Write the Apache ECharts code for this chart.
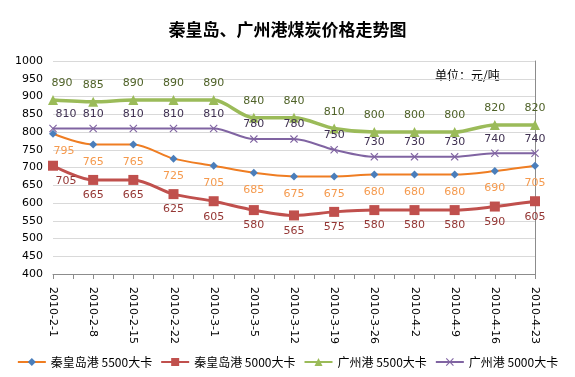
<!DOCTYPE html>
<html>
<head>
<meta charset="utf-8">
<script src="https://cdn.jsdelivr.net/npm/echarts@6/dist/echarts.min.js"></script>
<style>
  html, body { margin: 0; padding: 0; background: #fff; }
  #main { width: 575px; height: 377px; }
</style>
</head>
<body>
<div id="main"></div>
<script>
var dates = ["2010-2-1", "2010-2-8", "2010-2-15", "2010-2-22", "2010-3-1", "2010-3-5", "2010-3-12",
  "2010-3-19", "2010-3-26", "2010-4-2", "2010-4-9", "2010-4-16", "2010-4-23"];
var qhd5500 = [795, 765, 765, 725, 705, 685, 675, 675, 680, 680, 680, 690, 705];
var qhd5000 = [705, 665, 665, 625, 605, 580, 565, 575, 580, 580, 580, 590, 605];
var gz5500 = [890, 885, 890, 890, 890, 840, 840, 810, 800, 800, 800, 820, 820];
var gz5000 = [810, 810, 810, 810, 810, 780, 780, 750, 730, 730, 730, 740, 740];

// 刻度线：每两个日期之间多一个刻度
var tickSlots = [];
for (var i = 0; i < dates.length * 2 - 1; i++) tickSlots.push("");

// 第一个点的数据标签往右挪，避开y轴
function withFirstShift(arr, dx) {
  return arr.map(function (v, i) {
    if (i === 0) return { value: v, label: { offset: [dx, 0] } };
    return v;
  });
}

var myChart = echarts.init(document.getElementById("main"));
var font = "DejaVu Sans";
var crossPath = "path://M0,1L1,0L5,4L9,0L10,1L6,5L10,9L9,10L5,6L1,10L0,9L4,5Z";

option = {
  animation: false,
  title: {
    text: "秦皇岛、广州港煤炭价格走势图",
    left: "center",
    top: 16,
    textStyle: {
      color: "#000",
      fontSize: 17,
      fontWeight: "bold",
      fontFamily: "Noto Sans CJK SC"
    }
  },
  graphic: [
    {
      type: "text",
      left: 435,
      top: 69,
      style: { text: "单位：元/吨", fontSize: 12, fill: "#000", fontFamily: "Noto Sans CJK SC" }
    }
  ],
  legend: {
    bottom: 4,
    left: "center",
    itemWidth: 28,
    itemHeight: 10,
    itemGap: 8,
    textStyle: { color: "#000", fontSize: 12, fontFamily: "Noto Sans CJK SC" },
    data: ["秦皇岛港 5500大卡", "秦皇岛港 5000大卡", "广州港 5500大卡", "广州港 5000大卡"]
  },
  grid: {
    left: 53,
    right: 40,
    top: 61,
    bottom: 103
  },
  xAxis: [
    {
      type: "category",
      boundaryGap: false,
      data: dates,
      axisLine: { show: false },
      axisTick: { show: false },
      axisLabel: {
        rotate: -90,
        color: "#000",
        fontSize: 11,
        fontFamily: font,
        margin: 13
      }
    },
    {
      type: "category",
      boundaryGap: false,
      position: "bottom",
      data: tickSlots,
      axisLine: { show: true, lineStyle: { color: "#8c8c8c" } },
      axisTick: { show: true, interval: 0, length: 5, lineStyle: { color: "#8c8c8c" } },
      axisLabel: { show: false }
    }
  ],
  yAxis: [
    {
      type: "value",
      min: 400,
      max: 1000,
      interval: 50,
      axisLine: { show: false },
      axisTick: { show: false },
      splitLine: { lineStyle: { color: "#d9d9d9" } },
      axisLabel: {
        color: "#000",
        fontSize: 11,
        fontFamily: font,
        margin: 10,
        formatter: function (v) { return String(v); }
      }
    },
    {
      type: "value",
      position: "right",
      min: 400,
      max: 1000,
      interval: 50,
      axisLine: { show: true, lineStyle: { color: "#8c8c8c" } },
      axisTick: { show: false },
      splitLine: { show: false },
      axisLabel: { show: false }
    }
  ],
  series: [
    {
      name: "秦皇岛港 5500大卡",
      type: "line",
      data: withFirstShift(qhd5500, 11),
      smooth: 0.3,
      symbol: "diamond",
      symbolSize: 8,
      lineStyle: { color: "#ef7d22", width: 2 },
      itemStyle: { color: "#4a7ebb" },
      label: {
        show: true,
        position: "bottom",
        distance: 8,
        color: "#f59a4e",
        fontSize: 11,
        fontFamily: font
      },
      z: 3
    },
    {
      name: "秦皇岛港 5000大卡",
      type: "line",
      data: withFirstShift(qhd5000, 13),
      smooth: 0.3,
      symbol: "rect",
      symbolSize: 10,
      lineStyle: { color: "#c0504d", width: 3 },
      itemStyle: { color: "#c0504d" },
      label: {
        show: true,
        position: "bottom",
        distance: 5,
        color: "#953735",
        fontSize: 11,
        fontFamily: font
      },
      z: 4
    },
    {
      name: "广州港 5500大卡",
      type: "line",
      data: withFirstShift(gz5500, 9),
      smooth: 0.3,
      symbol: "triangle",
      symbolSize: 10,
      lineStyle: { color: "#9bbb59", width: 3.5 },
      itemStyle: { color: "#9bbb59" },
      label: {
        show: true,
        position: "top",
        distance: 6,
        color: "#4f6228",
        fontSize: 11,
        fontFamily: font
      },
      z: 5
    },
    {
      name: "广州港 5000大卡",
      type: "line",
      data: withFirstShift(gz5000, 13),
      smooth: 0.3,
      symbol: crossPath,
      symbolSize: 8,
      lineStyle: { color: "#8064a2", width: 2 },
      itemStyle: { color: "#8064a2" },
      label: {
        show: true,
        position: "top",
        distance: 5,
        color: "#403152",
        fontSize: 11,
        fontFamily: font
      },
      z: 6
    }
  ]
};

myChart.setOption(option);
</script>
</body>
</html>
